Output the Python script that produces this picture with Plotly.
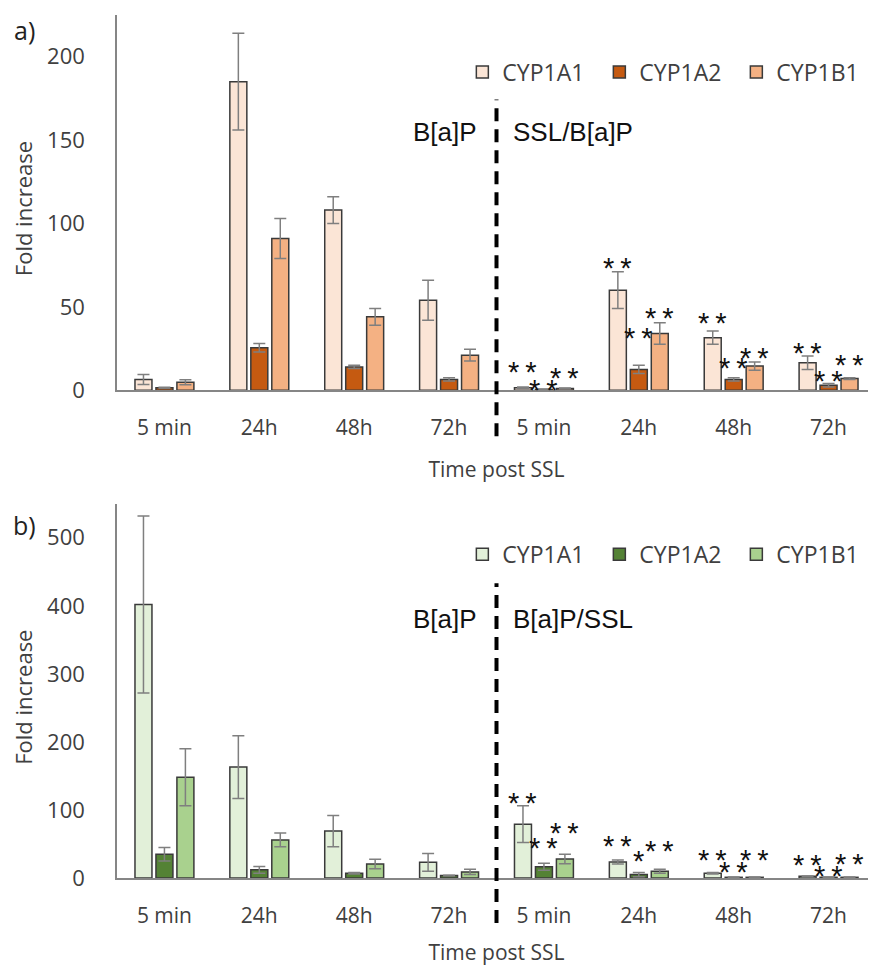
import plotly.graph_objects as go

# ---------------- data ----------------
categories = ["5 min", "24h", "48h", "72h", "5 min", "24h", "48h", "72h"]
series_names = ["CYP1A1", "CYP1A2", "CYP1B1"]

a_cyp1a1 = [6.5, 185, 108, 54, 1.5, 60, 31.5, 16.5]
a_cyp1a1_err = [3, 29, 8, 12, 0.5, 11, 4, 4]
a_cyp1a2 = [1.5, 25.5, 14, 6.5, 0.5, 12.5, 6.5, 3]
a_cyp1a2_err = [0.3, 2.5, 1, 1, 0.2, 2.5, 1, 1]
a_cyp1b1 = [4.8, 91, 44, 21, 1, 34, 14.5, 7]
a_cyp1b1_err = [1.5, 12, 5, 3.5, 0.3, 6.5, 2.5, 0.5]

b_cyp1a1 = [402, 163, 69, 23, 79, 23.5, 7, 2.5]
b_cyp1a1_err = [130, 46, 23, 13, 27, 3, 1, 0.5]
b_cyp1a2 = [35, 12, 7, 3.5, 16.5, 5, 1, 1]
b_cyp1a2_err = [10, 5, 1, 0.5, 5, 3, 0.3, 0.3]
b_cyp1b1 = [148, 56, 20.5, 9, 28, 10, 1, 1]
b_cyp1b1_err = [42, 10, 7, 4, 7, 3, 0.3, 0.3]

a_stars = [["", "", "", "", "**", "**", "**", "**"],
           ["", "", "", "", "**", "**", "**", "**"],
           ["", "", "", "", "**", "**", "**", "**"]]
b_stars = [["", "", "", "", "**", "**", "**", "**"],
           ["", "", "", "", "**", "*", "**", "**"],
           ["", "", "", "", "**", "**", "**", "**"]]

# ---------------- style ----------------
colors_a = ["#FBE5D6", "#C55A11", "#F4B183"]
colors_b = ["#E2F0D9", "#548235", "#A9D18E"]
TXT = "#404040"
AXC = "#868686"
FONT = "Open Sans"
BARGAP = 0.337
slot = (1 - BARGAP) / 3.0

# how far (px) each significance mark sits above its error bar (hand placement in the original)
star_lift_a = [[0, 0, 0, 0, 19, 8, 12.5, 8],
               [0, 0, 0, 0, 4, 32, 14, 7],
               [0, 0, 0, 0, 15, 9, 8.5, 17]]
star_lift_b = [[0, 0, 0, 0, 7.5, 18, 17.5, 15],
               [0, 0, 0, 0, 20, 16.5, 10, 6],
               [0, 0, 0, 0, 26, 23, 22, 18]]
STAR_SIZE = 29
STAR_SPACING = 6
STAR_GLYPH_OFFSET = 4.5

xpos = list(range(len(categories)))

fig = go.Figure()

panel_a = [(a_cyp1a1, a_cyp1a1_err), (a_cyp1a2, a_cyp1a2_err), (a_cyp1b1, a_cyp1b1_err)]
panel_b = [(b_cyp1a1, b_cyp1a1_err), (b_cyp1a2, b_cyp1a2_err), (b_cyp1b1, b_cyp1b1_err)]

annotations = []

for panel, colors, stars, lifts, xa, ya, leg in [
    (panel_a, colors_a, a_stars, star_lift_a, "x", "y", "legend"),
    (panel_b, colors_b, b_stars, star_lift_b, "x2", "y2", "legend2"),
]:
    for i, ((vals, errs), name) in enumerate(zip(panel, series_names)):
        fig.add_trace(go.Bar(
            x=xpos, y=vals, name=name, xaxis=xa, yaxis=ya, legend=leg,
            offsetgroup=str(i),
            marker=dict(color=colors[i], line=dict(color="#3a3a3a", width=1.5)),
            error_y=dict(type="data", array=errs, visible=True,
                         color="#7f7f7f", thickness=1.5, width=6),
        ))
        for j, s in enumerate(stars[i]):
            if s:
                annotations.append(dict(
                    x=j + (i - 1) * slot, y=vals[j] + errs[j],
                    xref=xa, yref=ya,
                    text='<span style="letter-spacing:%dpx">%s</span>' % (STAR_SPACING, s),
                    showarrow=False,
                    xanchor="center", yanchor="middle",
                    yshift=lifts[i][j] - STAR_GLYPH_OFFSET, xshift=STAR_SPACING / 2.0,
                    font=dict(family="Liberation Sans", size=STAR_SIZE, color="#111111"),
                ))

# Panel labels, group labels, y titles
for lab, yp in [("a)", 0.9827), ("b)", 0.4095)]:
    annotations.append(dict(x=-0.1225, y=yp, xref="paper", yref="paper", text=lab,
                            showarrow=False, xanchor="center", yanchor="middle",
                            font=dict(family=FONT, size=25, color="#222222")))

for left, right, yp in [("B[a]P", "SSL/B[a]P", 0.865), ("B[a]P", "B[a]P/SSL", 0.2999)]:
    xr = "x" if yp > 0.5 else "x2"
    annotations.append(dict(x=3.5, y=yp, xref=xr, yref="paper", text=left, showarrow=False,
                            xanchor="right", yanchor="middle", xshift=-18,
                            font=dict(family="Liberation Sans", size=26, color="#111111")))
    annotations.append(dict(x=3.5, y=yp, xref=xr, yref="paper", text=right, showarrow=False,
                            xanchor="left", yanchor="middle", xshift=14,
                            font=dict(family="Liberation Sans", size=26, color="#111111")))

for yp in [0.775, 0.2088]:
    annotations.append(dict(x=-0.1238, y=yp, xref="paper", yref="paper", text="Fold increase",
                            showarrow=False, textangle=-90, xanchor="center", yanchor="middle",
                            font=dict(family=FONT, size=22, color=TXT)))

shapes = [
    dict(type="line", xref="x", yref="paper", x0=3.5, x1=3.5, y0=0.512, y1=0.902,
         line=dict(color="black", width=4, dash="13px,8px")),
    dict(type="line", xref="x2", yref="paper", x0=3.5, x1=3.5, y0=-0.052, y1=0.3414,
         line=dict(color="black", width=4, dash="13px,8px")),
]

xaxis_common = dict(range=[-0.5, 7.5], tickmode="array", tickvals=xpos, ticktext=categories,
                    showline=True, linecolor=AXC, linewidth=1.5, ticks="", showgrid=False,
                    zeroline=False, tickfont=dict(family=FONT, size=21, color=TXT),
                    ticklabelstandoff=18,
                    title=dict(text="Time post SSL", font=dict(family=FONT, size=21, color=TXT),
                               standoff=22))
yaxis_common = dict(showline=True, linecolor=AXC, linewidth=1.5, ticks="", showgrid=False,
                    zeroline=False, tickfont=dict(family=FONT, size=22, color=TXT),
                    ticklabelstandoff=26)

legend_common = dict(orientation="h", xanchor="left", yanchor="middle",
                     font=dict(family=FONT, size=23, color=TXT), bgcolor="rgba(0,0,0,0)",
                     itemclick=False, traceorder="normal", entrywidth=92)

# The page body has an 8px margin; the figure is sized so that it fills the window.
fig.update_layout(
    width=868, height=958,
    margin=dict(l=109, r=0, t=7, b=84),
    paper_bgcolor="white", plot_bgcolor="white",
    barmode="group", bargap=BARGAP, bargroupgap=0.19,
    xaxis=dict(xaxis_common, domain=[0, 1], anchor="y"),
    yaxis=dict(yaxis_common, domain=[0.5652, 1.0], range=[0, 225], dtick=50, anchor="x"),
    xaxis2=dict(xaxis_common, domain=[0, 1], anchor="y2"),
    yaxis2=dict(yaxis_common, domain=[0.0, 0.4337], range=[0, 550], dtick=100, anchor="x2"),
    legend=dict(legend_common, x=0.455, y=0.934),
    legend2=dict(legend_common, x=0.455, y=0.375),
    annotations=annotations,
    shapes=shapes,
    showlegend=True,
)

fig.write_html("out.html")
